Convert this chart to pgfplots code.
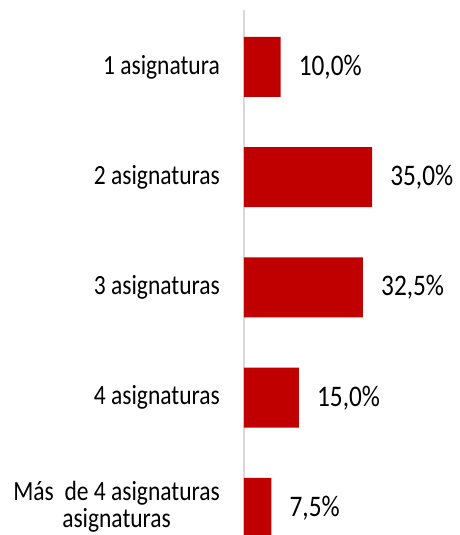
\documentclass[border=0pt]{standalone}
\usepackage{fontspec}
\setmainfont{Carlito}
\usepackage{graphicx}
\usepackage{pgfplots}
\pgfplotsset{compat=1.18}
\definecolor{barred}{HTML}{C00000}
\definecolor{axgray}{HTML}{D9D9D9}
\newcommand{\catlab}[1]{\scalebox{1}[1.18]{\fontsize{23.5}{21.5}\selectfont #1}}
\begin{document}
\begin{tikzpicture}
\useasboundingbox (-244pt,0pt) rectangle (216pt,535pt);
\begin{axis}[
  at={(0pt,0pt)}, anchor=south west,
  scale only axis, width=216pt, height=525pt,
  xbar, bar width=60pt,
  xmin=0, xmax=59,
  ymin=-0.517, ymax=4.245, y dir=reverse,
  hide x axis,
  axis y line*=left,
  y axis line style={axgray, line width=2pt, -},
  ytick={0,1,2,3,4},
  yticklabels={
    \catlab{1 asignatura},
    \catlab{2 asignaturas},
    \catlab{3 asignaturas},
    \catlab{4 asignaturas},
    \catlab{\begin{tabular}{@{}c@{}}Más\ \ de 4 asignaturas\\asignaturas\end{tabular}}},
  major tick length=0pt,
  yticklabel style={anchor=east, inner sep=0pt, xshift=-24pt},
  nodes near coords={\scalebox{1}[1.18]{\fontsize{25.3}{30}\selectfont\pgfmathprintnumber[fixed, fixed zerofill, precision=1, use comma, assume math mode=true]{\pgfplotspointmeta}\%}},
  nodes near coords style={anchor=west, inner sep=0pt, xshift=18pt},
  point meta=x,
]
\addplot[fill=barred, draw=none] coordinates {(10,0) (35,1) (32.5,2) (15,3) (7.5,4)};
\end{axis}
\end{tikzpicture}
\end{document}
